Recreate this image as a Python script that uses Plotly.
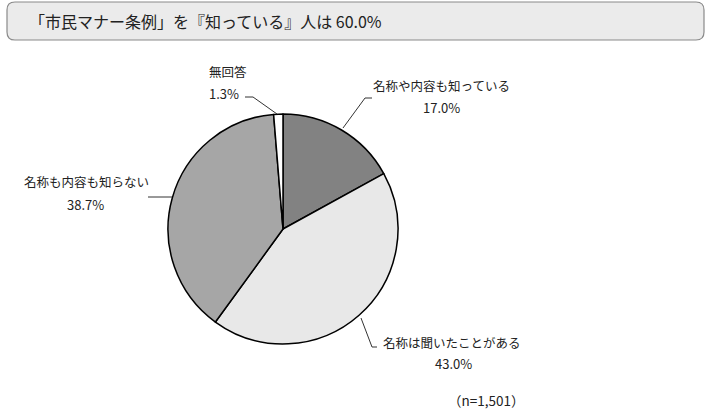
import plotly.graph_objects as go

# Data
categories = ["名称や内容も知っている", "名称は聞いたことがある", "名称も内容も知らない", "無回答"]
shares = [17.0, 43.0, 38.7, 1.3]
slice_colors = ["#828282", "#e8e8e8", "#a6a6a6", "#ffffff"]
title_text = "「市民マナー条例」を『知っている』人は 60.0%"
note_text = "（n=1,501）"

W, H = 710, 413
FONT = "Noto Sans CJK JP"


def px(x, y):
    # pixel -> paper coords
    return x / W, 1 - y / H


# pie placement (center 283,229 radius 115)
cx, cy, r = 283, 229, 115
x0, y1 = px(cx - r, cy - r)
x1, y0 = px(cx + r, cy + r)

fig = go.Figure(go.Pie(
    labels=categories,
    values=shares,
    sort=False,
    direction="clockwise",
    rotation=0,
    textinfo="none",
    hoverinfo="label+percent",
    marker=dict(colors=slice_colors, line=dict(color="#000000", width=1.5)),
    domain=dict(x=[x0, x1], y=[y0, y1]),
    showlegend=False,
))

# label positions (pixel centres of name line / value line) and leader lines
label_pos = [(442, 85, 442, 107), (452, 342, 453, 363), (86, 182, 85, 204), (228, 71, 224, 94)]
leaders = [
    [(372, 98), (365, 98), (343, 128)],
    [(361, 318), (372, 347), (377, 347)],
    [(148, 197), (172, 197)],
    [(245, 97), (253, 97), (277, 114)],
]

annotations = []
for name, val, (nx, ny, vx, vy) in zip(categories, shares, label_pos):
    ax, ay = px(nx, ny)
    annotations.append(dict(x=ax, y=ay, xref="paper", yref="paper", text=name, showarrow=False,
                            xanchor="center", yanchor="middle", font=dict(family=FONT, size=12.5, color="#222")))
    bx, by = px(vx, vy)
    annotations.append(dict(x=bx, y=by, xref="paper", yref="paper", text=f"{val:.1f}%", showarrow=False,
                            xanchor="center", yanchor="middle", font=dict(family=FONT, size=13, color="#222")))

tx, ty = px(27, 21)
annotations.append(dict(x=tx, y=ty, xref="paper", yref="paper", text=title_text, showarrow=False,
                        xanchor="left", yanchor="middle", font=dict(family=FONT, size=16, color="#222")))
nx_, ny_ = px(486, 400)
annotations.append(dict(x=nx_, y=ny_, xref="paper", yref="paper", text=note_text, showarrow=False,
                        xanchor="center", yanchor="middle", font=dict(family=FONT, size=13.5, color="#222")))

shapes = []
for pts in leaders:
    path = ""
    for i, (lx, ly) in enumerate(pts):
        qx, qy = px(lx, ly)
        path += ("M" if i == 0 else "L") + f"{qx},{qy} "
    shapes.append(dict(type="path", path=path.strip(), xref="paper", yref="paper",
                       line=dict(color="#333333", width=1)))

# rounded title box
bx0, by0 = px(7, 2)
bx1, by1 = px(704, 40)
rx, ry = 8 / W, 8 / H
box = (f"M{bx0 + rx},{by0} L{bx1 - rx},{by0} Q{bx1},{by0} {bx1},{by0 - ry} "
       f"L{bx1},{by1 + ry} Q{bx1},{by1} {bx1 - rx},{by1} L{bx0 + rx},{by1} "
       f"Q{bx0},{by1} {bx0},{by1 + ry} L{bx0},{by0 - ry} Q{bx0},{by0} {bx0 + rx},{by0} Z")
shapes.append(dict(type="path", path=box, xref="paper", yref="paper", layer="below",
                   fillcolor="#ebebeb", line=dict(color="#8a8a8a", width=1.2)))

fig.update_layout(
    width=W, height=H,
    margin=dict(l=0, r=0, t=0, b=0),
    paper_bgcolor="white",
    plot_bgcolor="white",
    annotations=annotations,
    shapes=shapes,
)

# drop the default page margin so the figure sits at the window's corner
fig.write_html("out.html", config={"displayModeBar": False},
               post_script="document.body.style.margin='0';document.body.style.overflow='hidden';")
